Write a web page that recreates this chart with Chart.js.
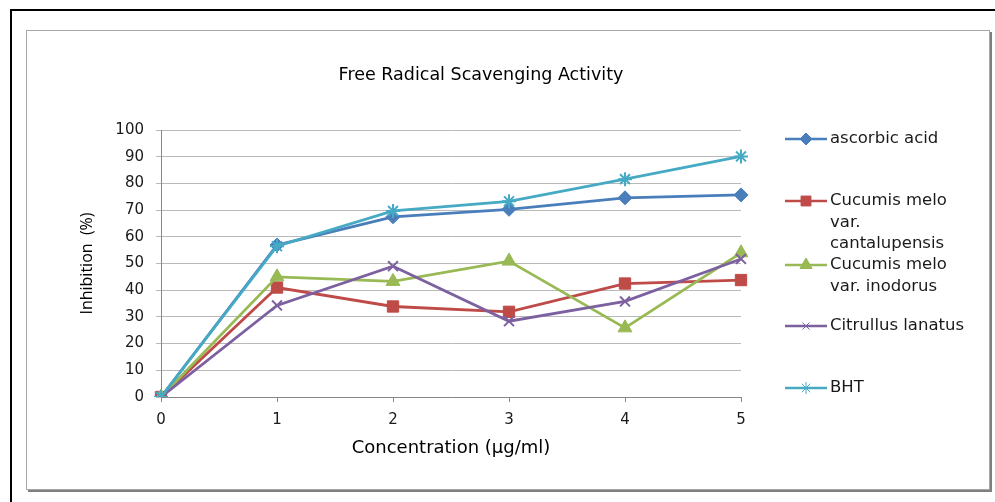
<!DOCTYPE html>
<html>
<head>
<meta charset="utf-8">
<script src="https://cdn.jsdelivr.net/npm/chart.js@4/dist/chart.umd.min.js"></script>
<style>
  html, body { margin: 0; padding: 0; background: #fff; }
  body { width: 995px; height: 502px; position: relative; overflow: hidden; }
  #outer { position: absolute; left: 10px; top: 9px; width: 995px; height: 520px; border-left: 2px solid #000; border-top: 2px solid #000; }
  #frame { position: absolute; left: 26px; top: 30px; width: 962px; height: 458px; border: 1px solid #a6a6a6; box-shadow: 2px 2px 0 #7f7f7f; background: #fff; }
  canvas { position: absolute; left: 0; top: 0; }
</style>
</head>
<body>
<div id="outer"></div>
<div id="frame"></div>
<canvas id="c" width="995" height="502"></canvas>
<script>
const concentrations = ['0', '1', '2', '3', '4', '5'];
const seriesNames = ['ascorbic acid', 'Cucumis melo var. cantalupensis', 'Cucumis melo var. inodorus', 'Citrullus lanatus', 'BHT'];
const ascorbicAcid = [0, 56.9, 67.5, 70.3, 74.6, 75.7];
const cantalupensis = [0, 41.0, 33.9, 31.9, 42.5, 43.8];
const inodorus = [0, 45.0, 43.3, 50.9, 25.9, 54.0];
const citrullus = [0, 34.3, 49.0, 28.4, 35.8, 51.7];
const bht = [0, 56.5, 69.7, 73.3, 81.6, 90.1];
const yTicks = [0, 10, 20, 30, 40, 50, 60, 70, 80, 90, 100];

const FONT = "'DejaVu Sans', 'Open Sans', sans-serif";
const FONT_V = "'Open Sans', 'DejaVu Sans', sans-serif";
const colors = ['#4a7ebb', '#be4b48', '#98b954', '#7d60a0', '#46aac5'];
const styles = ['rectRot', 'rect', 'triangle', 'crossRot', 'star'];
const radii = [7, 8, 8, 7, 7];
const legendRadii = [6, 7, 7, 5, 6];
const legendLines = [['ascorbic acid'], ['Cucumis melo', 'var.', 'cantalupensis'], ['Cucumis melo', 'var. inodorus'], ['Citrullus lanatus'], ['BHT']];
const legendY = [139, 201, 265, 326, 388];
const allData = [ascorbicAcid, cantalupensis, inodorus, citrullus, bht];

const datasets = allData.map((d, i) => ({
  label: seriesNames[i],
  data: d,
  borderColor: colors[i],
  backgroundColor: colors[i],
  pointBackgroundColor: colors[i],
  pointBorderColor: colors[i],
  pointStyle: styles[i],
  pointRadius: radii[i],
  pointBorderWidth: (styles[i] === 'crossRot' || styles[i] === 'star') ? 2 : 1,
  borderWidth: 2.8,
  tension: 0,
  fill: false,
  order: 5 - i
}));

const customDraw = {
  id: 'customDraw',
  afterDraw(chart) {
    const ctx = chart.ctx;
    ctx.save();
    ctx.fillStyle = '#000';
    ctx.font = "17.5px " + FONT;
    ctx.textAlign = 'center';
    ctx.textBaseline = 'middle';
    ctx.fillText('Free Radical Scavenging Activity', 481, 75);
    ctx.font = "16.5px " + FONT;
    ctx.textAlign = 'left';
    legendLines.forEach((lines, i) => {
      const y = legendY[i];
      ctx.strokeStyle = colors[i];
      ctx.lineWidth = 2.5;
      ctx.beginPath();
      ctx.moveTo(785, y);
      ctx.lineTo(827, y);
      ctx.stroke();
      ctx.fillStyle = colors[i];
      ctx.strokeStyle = colors[i];
      ctx.lineWidth = 1;
      Chart.helpers.drawPoint(ctx, {pointStyle: styles[i], radius: legendRadii[i], rotation: 0, borderWidth: 1}, 806, y);
      ctx.fillStyle = '#1a1a1a';
      lines.forEach((t, k) => ctx.fillText(t, 830, y + k * 21.5));
    });
    ctx.restore();
  }
};

new Chart(document.getElementById('c'), {
  type: 'line',
  data: { labels: concentrations, datasets },
  plugins: [customDraw],
  options: {
    responsive: false,
    animation: false,
    layout: { padding: { left: 76, top: 130, right: 254, bottom: 40 } },
    plugins: { legend: { display: false }, title: { display: false }, tooltip: { enabled: false } },
    scales: {
      x: {
        type: 'category',
        offset: false,
        grid: { display: true, drawOnChartArea: false, drawTicks: true, tickLength: 5, color: '#868686' },
        border: { color: '#868686', width: 1 },
        ticks: { color: '#1a1a1a', font: { family: FONT, size: 15 }, padding: 9, maxRotation: 0 },
        title: { display: true, text: 'Concentration (μg/ml)', color: '#000', font: { family: FONT, size: 18 }, padding: { top: 2, bottom: 3 } },
        afterFit(s) { s.height = 65; }
      },
      y: {
        min: 0, max: 100,
        afterBuildTicks(s) { s.ticks = yTicks.map(v => ({ value: v })); },
        grid: { color: '#b9b9b9', lineWidth: 1, tickLength: 5, drawTicks: true },
        border: { color: '#868686', width: 1 },
        ticks: { color: '#1a1a1a', font: { family: FONT, size: 15 }, padding: 12 },
        title: { display: true, text: 'Inhibition  (%)', color: '#000', font: { family: FONT_V, size: 16 }, padding: { top: 2, bottom: 2 } },
        afterFit(s) { s.width = 161 - 76; }
      }
    }
  }
});
</script>
</body>
</html>
